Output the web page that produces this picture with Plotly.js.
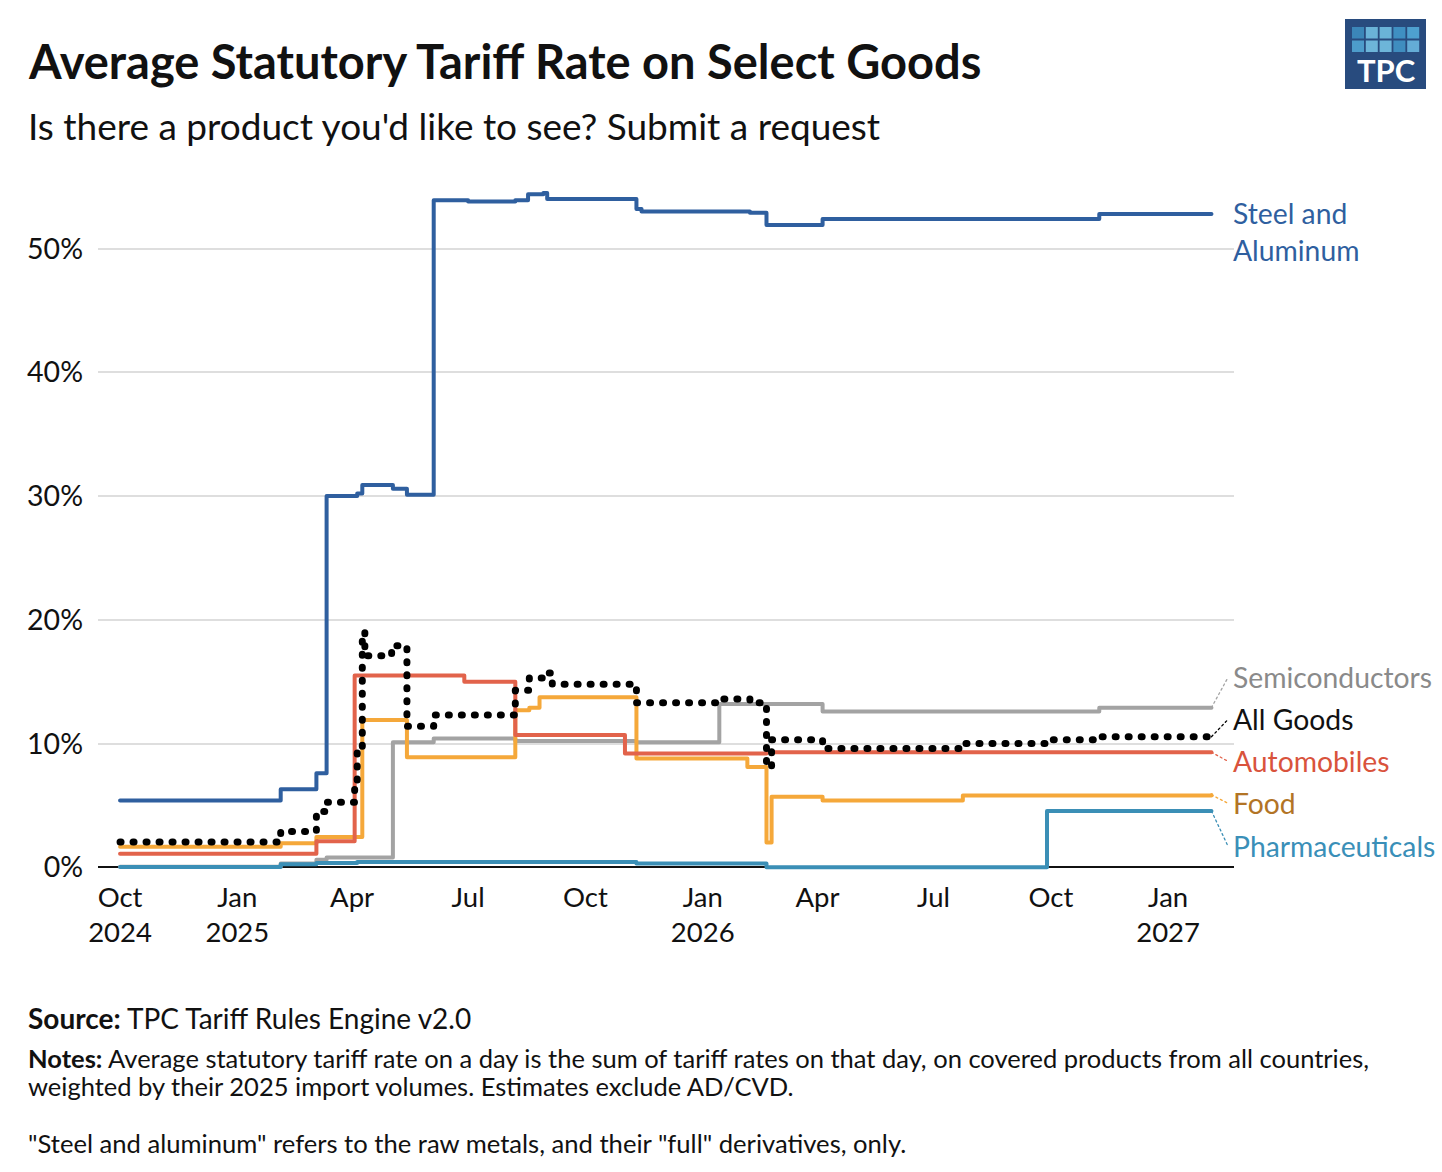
<!DOCTYPE html>
<html>
<head>
<meta charset="utf-8">
<script src="https://cdn.plot.ly/plotly-3.0.1.min.js"></script>
<style>
  html, body { margin: 0; padding: 0; background: #fff; }
  #chart { width: 1442px; height: 1172px; }
  .scatterlayer .js-line { stroke-linecap: round; stroke-linejoin: round; }
</style>
</head>
<body>
<div id="chart"></div>
<script>
// ---------------- DATA ----------------
const endDate = '2027-02-04';

const steelDates  = ['2024-10-01','2025-02-04','2025-03-04','2025-03-12','2025-04-05','2025-04-09','2025-05-03','2025-05-14','2025-06-04','2025-07-01','2025-08-07','2025-08-17','2025-08-29','2025-09-01','2025-11-10','2025-11-14','2026-02-07','2026-02-20','2026-04-05','2026-11-08','2027-02-04'];
const steelValues = [5.4, 6.3, 7.6, 30.0, 30.2, 30.9, 30.6, 30.1, 53.9, 53.8, 53.9, 54.4, 54.5, 54.0, 53.2, 53.0, 52.9, 51.9, 52.4, 52.8, 52.8];

const semiDates  = ['2024-10-01','2025-02-04','2025-03-04','2025-03-12','2025-05-03','2025-06-04','2025-08-07','2025-11-10','2026-01-14','2026-04-05','2026-11-08','2027-02-04'];
const semiValues = [0.05, 0.3, 0.6, 0.8, 10.1, 10.4, 10.2, 10.1, 13.2, 12.6, 12.9, 12.9];

const allDates  = ['2024-10-01','2025-02-04','2025-03-04','2025-03-12','2025-04-03','2025-04-05','2025-04-09','2025-04-11','2025-05-02','2025-05-14','2025-06-04','2025-08-07','2025-08-18','2025-08-29','2025-09-05','2025-11-10','2026-01-14','2026-02-07','2026-02-20','2026-02-24','2026-04-05','2026-07-24','2026-09-28','2026-11-08','2027-02-04'];
const allValues = [2.05, 2.9, 4.5, 5.25, 7.0, 9.5, 19.0, 17.1, 17.9, 11.4, 12.3, 14.3, 15.3, 15.7, 14.8, 13.3, 13.6, 13.3, 8.1, 10.3, 9.6, 10.0, 10.3, 10.55, 10.55];

const autoDates  = ['2024-10-01','2025-03-04','2025-04-03','2025-06-28','2025-08-07','2025-11-01','2026-02-20','2027-02-04'];
const autoValues = [1.1, 2.1, 15.5, 15.0, 10.7, 9.2, 9.3, 9.3];

const foodDates  = ['2024-10-01','2025-02-04','2025-03-04','2025-04-09','2025-05-14','2025-08-07','2025-08-18','2025-08-26','2025-11-10','2026-02-05','2026-02-20','2026-02-24','2026-04-05','2026-07-24','2027-02-04'];
const foodValues = [1.65, 1.95, 2.45, 11.9, 8.9, 12.7, 12.9, 13.75, 8.8, 8.1, 2.0, 5.7, 5.4, 5.8, 5.85];

const pharmaDates  = ['2024-10-01','2025-02-04','2025-03-04','2025-04-05','2025-11-10','2026-02-20','2026-09-28','2027-02-04'];
const pharmaValues = [0.03, 0.25, 0.35, 0.43, 0.3, 0.0, 4.55, 4.55];

const tickDates  = ['2024-10-01','2025-01-01','2025-04-01','2025-07-01','2025-10-01','2026-01-01','2026-04-01','2026-07-01','2026-10-01','2027-01-01'];
const tickLabels = ['Oct<br>2024','Jan<br>2025','Apr','Jul','Oct','Jan<br>2026','Apr','Jul','Oct','Jan<br>2027'];
const yTicks = [0, 10, 20, 30, 40, 50];

// ---------------- LAYOUT HELPERS ----------------
const FONT = 'Lato, "Noto Sans", sans-serif';
const W = 1442, H = 1172;
const M = { l: 98, r: 208, t: 162, b: 301 };
const PW = W - M.l - M.r, PH = H - M.t - M.b;
const px = p => (p - M.l) / PW;        // page x pixel -> paper
const py = p => (H - M.b - p) / PH;    // page y pixel -> paper

function addDays(d, n) {
  return new Date(Date.parse(d) + n * 864e5).toISOString().slice(0, 10);
}

const LABEL_SIZE = 28.3;

const series = [
  { name: 'Semiconductors', x: semiDates, y: semiValues, color: '#a3a3a3', text: '#8a8a8a', width: 4, dash: 'solid', labelY: 15.35, connector: true },
  { name: 'Pharmaceuticals', x: pharmaDates, y: pharmaValues, color: '#3b8fb6', text: '#3a8fb8', width: 4, dash: 'solid', labelY: 1.7, connector: true },
  { name: 'Food', x: foodDates, y: foodValues, color: '#f5a83a', text: '#b27425', width: 4, dash: 'solid', labelY: 5.17, connector: true },
  { name: 'Automobiles', x: autoDates, y: autoValues, color: '#e2634b', text: '#d9533c', width: 4, dash: 'solid', labelY: 8.56, connector: true },
  { name: 'Steel and<br>Aluminum', x: steelDates, y: steelValues, color: '#2f5f9f', text: '#2f5f9f', width: 4, dash: 'solid', labelY: null, connector: false },
  { name: 'All Goods', x: allDates, y: allValues, color: '#000000', text: '#111111', width: 7, dash: '1px,12px', labelY: 11.95, connector: true }
];

const traces = [];
const annotations = [];
const connEnd = addDays(endDate, 13);

series.forEach(s => {
  traces.push({
    type: 'scatter', mode: 'lines', x: s.x, y: s.y,
    line: { color: s.color, width: s.width, dash: s.dash, shape: 'hv' },
    hoverinfo: 'skip', showlegend: false
  });
  const lastX = s.x[s.x.length - 1], lastY = s.y[s.y.length - 1];
  if (s.connector) {
    traces.push({
      type: 'scatter', mode: 'lines', x: [lastX, connEnd], y: [lastY, s.labelY],
      line: { color: s.color, width: 1.3, dash: '2px,3px' },
      hoverinfo: 'skip', showlegend: false
    });
    annotations.push({
      x: lastX, y: s.labelY, xref: 'x', yref: 'y', xanchor: 'left', yanchor: 'middle',
      xshift: 21, text: s.name, showarrow: false, borderpad: 0,
      font: { family: FONT, size: LABEL_SIZE, color: s.text }, align: 'left'
    });
  } else {
    annotations.push({
      x: lastX, y: lastY, xref: 'x', yref: 'y', xanchor: 'left', yanchor: 'top',
      xshift: 21, yshift: 19, text: s.name, showarrow: false, borderpad: 0,
      font: { family: FONT, size: LABEL_SIZE, color: s.text }, align: 'left'
    });
  }
});

// Titles and notes
const textItems = [
  { t: '<b>Average Statutory Tariff Rate on Select Goods</b>', y: 61, size: 47, color: '#111' },
  { t: "Is there a product you'd like to see? Submit a request", y: 125, size: 37, color: '#111' },
  { t: '<b>Source:</b> TPC Tariff Rules Engine v2.0', y: 1018, size: 28, color: '#111' },
  { t: '<b>Notes:</b> Average statutory tariff rate on a day is the sum of tariff rates on that day, on covered products from all countries,', y: 1058, size: 25.5, color: '#111' },
  { t: 'weighted by their 2025 import volumes. Estimates exclude AD/CVD.', y: 1086, size: 25.5, color: '#111' },
  { t: '"Steel and aluminum" refers to the raw metals, and their "full" derivatives, only.', y: 1143, size: 25.6, color: '#111' }
];
textItems.forEach(it => annotations.push({
  x: px(27), y: py(it.y), xref: 'paper', yref: 'paper', xanchor: 'left', yanchor: 'middle',
  text: it.t, showarrow: false, borderpad: 0, align: 'left',
  font: { family: FONT, size: it.size, color: it.color }
}));

// Logo
const shapes = [{
  type: 'rect', xref: 'paper', yref: 'paper',
  x0: px(1345), x1: px(1426), y0: py(89), y1: py(19),
  fillcolor: '#284b7e', line: { width: 0 }, layer: 'above'
}];
const logoColors = [
  ['#3b86b8', '#6ab3d8', '#6ab3d8', '#3f8fc2', '#4ea0cf'],
  ['#4d9ccb', '#6db5d9', '#6db5d9', '#3f8dbf', '#64acd6']
];
logoColors.forEach((row, r) => row.forEach((c, i) => {
  const x0 = 1352 + i * 13.8, y0 = 27 + r * 13.5;
  shapes.push({
    type: 'rect', xref: 'paper', yref: 'paper',
    x0: px(x0), x1: px(x0 + 12), y0: py(y0 + 11.5), y1: py(y0),
    fillcolor: c, line: { width: 0 }, layer: 'above'
  });
}));
annotations.push({
  x: px(1386), y: py(70), xref: 'paper', yref: 'paper', xanchor: 'center', yanchor: 'middle',
  text: '<b>TPC</b>', showarrow: false, borderpad: 0,
  font: { family: FONT, size: 31, color: '#ffffff' }
});

const layout = {
  width: W, height: H,
  margin: M,
  paper_bgcolor: '#fff', plot_bgcolor: '#fff',
  showlegend: false,
  font: { family: FONT, color: '#111' },
  xaxis: {
    type: 'date',
    range: ['2024-09-13 17:00', '2027-02-21 16:00'],
    tickvals: tickDates, ticktext: tickLabels,
    showgrid: false, zeroline: false, showline: false, ticks: '',
    tickfont: { family: FONT, size: 27.5, color: '#111' },
    ticklabelstandoff: 7, fixedrange: true
  },
  yaxis: {
    range: [-0.3, 57],
    tickvals: yTicks, ticktext: yTicks.map(v => v + '%'),
    showgrid: true, gridcolor: '#dedede', gridwidth: 2,
    zeroline: true, zerolinecolor: '#111', zerolinewidth: 2,
    showline: false, ticks: '',
    tickfont: { family: FONT, size: 28.5, color: '#111' },
    ticklabelstandoff: 14, fixedrange: true
  },
  annotations: annotations,
  shapes: shapes
};

Plotly.newPlot('chart', traces, layout, { staticPlot: true, displayModeBar: false });
</script>
</body>
</html>
